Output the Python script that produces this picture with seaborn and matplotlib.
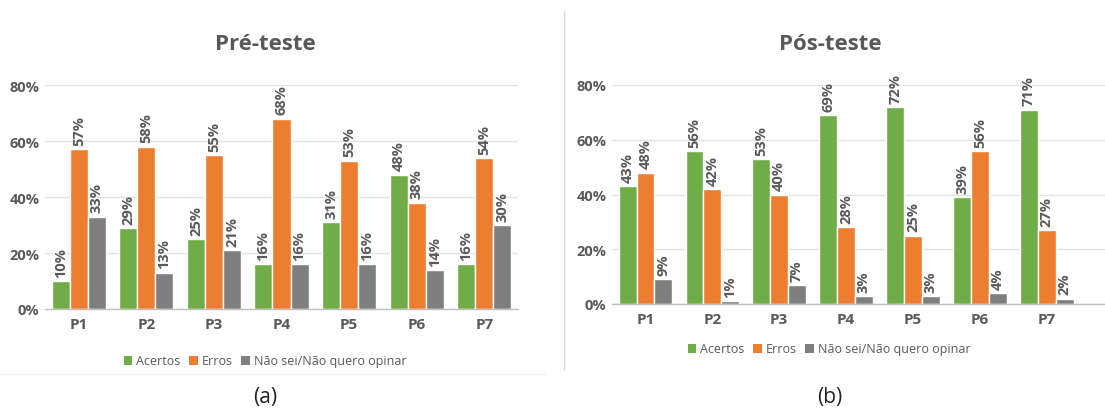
import matplotlib
matplotlib.use("Agg")
import matplotlib.pyplot as plt
import seaborn as sns
import pandas as pd
from matplotlib.lines import Line2D
from matplotlib.patches import Patch

questions = ["P1", "P2", "P3", "P4", "P5", "P6", "P7"]
series_names = ["Acertos", "Erros", "Não sei/Não quero opinar"]

pre_acertos = [10, 29, 25, 16, 31, 48, 16]
pre_erros = [57, 58, 55, 68, 53, 38, 54]
pre_nao_sei = [33, 13, 21, 16, 16, 14, 30]

pos_acertos = [43, 56, 53, 69, 72, 39, 71]
pos_erros = [48, 42, 40, 28, 25, 56, 27]
pos_nao_sei = [9, 1, 7, 3, 3, 4, 2]

yticks = [0, 20, 40, 60, 80]
ytick_labels = ["0%", "20%", "40%", "60%", "80%"]

colors = ["#70AD47", "#ED7D31", "#7F7F7F"]
text_col = "#595959"

sns.set_theme(style="white")
plt.rcParams["font.family"] = ["Open Sans", "DejaVu Sans"]


def long_df(a, e, n):
    rows = []
    for name, vals in zip(series_names, [a, e, n]):
        for q, v in zip(questions, vals):
            rows.append({"q": q, "serie": name, "v": v})
    return pd.DataFrame(rows)


fig = plt.figure(figsize=(11.05, 4.14), dpi=100)
W, H = 1105, 414

def ax_rect(x0, x1, ytop, ybot):
    return [x0 / W, 1 - ybot / H, (x1 - x0) / W, (ybot - ytop) / H]

ax1 = fig.add_axes(ax_rect(45, 518, 86, 310))
ax2 = fig.add_axes(ax_rect(612, 1105, 86, 305))

panels = [
    (ax1, long_df(pre_acertos, pre_erros, pre_nao_sei), (-0.5, 6.5)),
    (ax2, long_df(pos_acertos, pos_erros, pos_nao_sei), (-0.5, 6.87)),
]

for ax, df, xl in panels:
    sns.barplot(data=df, x="q", y="v", hue="serie", hue_order=series_names,
                palette=colors, ax=ax, width=0.8, gap=0, saturation=1,
                legend=False, errorbar=None)
    for cont in ax.containers:
        lbls = ax.bar_label(cont, labels=[f"{int(round(b.get_height()))}%" for b in cont],
                            rotation=90, padding=3, fontsize=10.5, fontweight="bold",
                            color=text_col)
        for t in lbls:
            t.set_clip_on(False)
    ax.set_ylim(0, 80)
    ax.set_xlim(*xl)
    ax.set_yticks(yticks)
    ax.set_yticklabels(ytick_labels, fontsize=10.5, fontweight="bold", color=text_col)
    ax.set_xlabel("")
    ax.set_ylabel("")
    ax.tick_params(axis="x", labelsize=11, colors=text_col, length=0, pad=6)
    ax.tick_params(axis="y", length=0, pad=4)
    for lab in ax.get_xticklabels():
        lab.set_fontweight("bold")
    ax.grid(axis="y", color="#E3E3E3", linewidth=1)
    ax.set_axisbelow(True)
    for s in ["top", "right", "left"]:
        ax.spines[s].set_visible(False)
    ax.spines["bottom"].set_color("#BFBFBF")
    ax.spines["bottom"].set_linewidth(1)

# titles
fig.text(265 / W, 1 - 45 / H, "Pré-teste", ha="center", va="center",
         fontsize=16, fontweight="bold", color=text_col)
fig.text(830 / W, 1 - 45 / H, "Pós-teste", ha="center", va="center",
         fontsize=16, fontweight="bold", color=text_col)

# legends
handles = [Patch(facecolor=c, edgecolor="none") for c in colors]
for cx, cy in [(265, 362), (829, 350)]:
    fig.legend(handles, series_names, loc="center", bbox_to_anchor=(cx / W, 1 - cy / H),
               ncol=3, frameon=False, fontsize=9, handlelength=0.7, handleheight=0.7,
               handletextpad=0.3, columnspacing=0.7, labelcolor=text_col)

# separator & faint line
fig.add_artist(Line2D([564 / W, 564 / W], [1 - 12 / H, 1 - 370 / H],
                      color="#D9D9D9", linewidth=1))
fig.add_artist(Line2D([0, 545 / W], [1 - 375 / H, 1 - 375 / H],
                      color="#F0F0F0", linewidth=1))

# panel letters
fig.text(265 / W, 1 - 398 / H, "(a)", ha="center", va="center", fontsize=15, color="#222222")
fig.text(830 / W, 1 - 398 / H, "(b)", ha="center", va="center", fontsize=15, color="#222222")

fig.savefig("out.png", dpi=100)
